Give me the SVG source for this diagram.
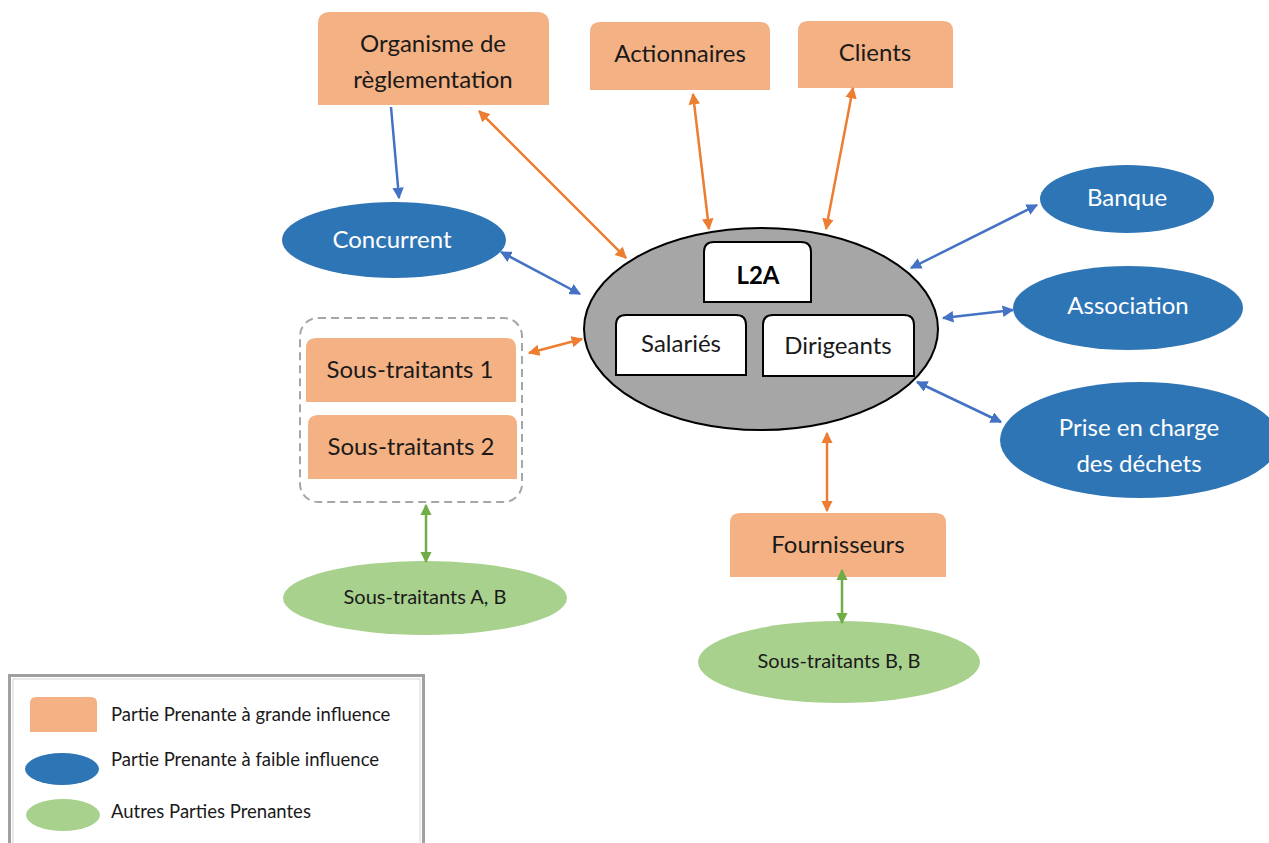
<svg xmlns="http://www.w3.org/2000/svg" width="1269" height="843" viewBox="0 0 1269 843">
<defs>
<style>
.t{font-family:Lato,"Liberation Sans",sans-serif;fill:#1a1a1a;text-anchor:middle;font-size:24px}
.w{font-family:Lato,"Liberation Sans",sans-serif;fill:#ffffff;text-anchor:middle;font-size:24px}
.s{font-family:Lato,"Liberation Sans",sans-serif;fill:#1a1a1a;text-anchor:middle;font-size:20px}
.or{fill:#f4b183}
.bl{fill:#2e75b6}
.gr{fill:#a9d18e}
.wb{fill:#ffffff;stroke:#000;stroke-width:2}
.ao{stroke:#ed7d31;stroke-width:2.5;fill:none;marker-start:url(#ho);marker-end:url(#ho)}
.ab{stroke:#4472c4;stroke-width:2.5;fill:none;marker-start:url(#hb);marker-end:url(#hb)}
.ag{stroke:#70ad47;stroke-width:2.5;fill:none;marker-start:url(#hg);marker-end:url(#hg)}
.lg{font-family:Lato,"Liberation Sans",sans-serif;fill:#1a1a1a;font-size:18.5px}
</style>
<marker id="ho" viewBox="0 0 10 10" refX="9" refY="5" markerWidth="4.6" markerHeight="4.6" orient="auto-start-reverse" markerUnits="strokeWidth"><path d="M0,0 L10,5 L0,10 Z" fill="#ed7d31"/></marker>
<marker id="hb" viewBox="0 0 10 10" refX="9" refY="5" markerWidth="4.6" markerHeight="4.6" orient="auto-start-reverse" markerUnits="strokeWidth"><path d="M0,0 L10,5 L0,10 Z" fill="#4472c4"/></marker>
<marker id="hg" viewBox="0 0 10 10" refX="9" refY="5" markerWidth="4.6" markerHeight="4.6" orient="auto-start-reverse" markerUnits="strokeWidth"><path d="M0,0 L10,5 L0,10 Z" fill="#70ad47"/></marker>
</defs>
<rect width="1269" height="843" fill="#ffffff"/>

<g id="organisme">
<path class="or" d="M318,105 V24 Q318,12 330,12 H537 Q549,12 549,24 V105 Z"/>
<text class="t" x="433" y="52">Organisme de</text>
<text class="t" x="433" y="88">règlementation</text>
</g>
<g id="actionnaires">
<path class="or" d="M590,90 V32 Q590,22 600,22 H760 Q770,22 770,32 V90 Z"/>
<text class="t" x="680" y="62">Actionnaires</text>
</g>
<g id="clients">
<path class="or" d="M798,88 V31 Q798,21 808,21 H943 Q953,21 953,31 V88 Z"/>
<text class="t" x="875" y="61">Clients</text>
</g>
<g id="concurrent">
<ellipse class="bl" cx="394" cy="240" rx="112" ry="38"/>
<text class="w" x="392" y="248">Concurrent</text>
</g>
<g id="l2a">
<ellipse cx="761" cy="329" rx="177" ry="101" fill="#a6a6a6" stroke="#000" stroke-width="2"/>
<path class="wb" d="M704,302 V252 Q704,242 714,242 H801 Q811,242 811,252 V302 Z"/>
<text x="758" y="284" font-size="24" font-weight="bold" font-family="Lato,'Liberation Sans',sans-serif" fill="#000" text-anchor="middle">L2A</text>
</g>
<g id="salaries">
<path class="wb" d="M616,375 V325 Q616,315 626,315 H736 Q746,315 746,325 V375 Z"/>
<text class="t" x="681" y="352">Salariés</text>
</g>
<g id="dirigeants">
<path class="wb" d="M763,376 V325 Q763,315 773,315 H904 Q914,315 914,325 V376 Z"/>
<text class="t" x="838" y="354">Dirigeants</text>
</g>
<g id="banque">
<ellipse class="bl" cx="1127" cy="199" rx="87" ry="34"/>
<text class="w" x="1127" y="206">Banque</text>
</g>
<g id="association">
<ellipse class="bl" cx="1128" cy="308" rx="115" ry="42"/>
<text class="w" x="1128" y="314">Association</text>
</g>
<g id="prise">
<ellipse class="bl" cx="1140" cy="440" rx="140" ry="58"/>
<text class="w" x="1139" y="436">Prise en charge</text>
<text class="w" x="1139" y="472">des déchets</text>
</g>
<g id="sous-traitants-group">
<rect x="300" y="318" width="222" height="184" rx="18" fill="none" stroke="#a6a6a6" stroke-width="2" stroke-dasharray="8,5"/>
</g>
<g id="sous-traitants-1">
<path class="or" d="M306,402 V348 Q306,338 316,338 H506 Q516,338 516,348 V402 Z"/>
<text class="t" x="410" y="378">Sous-traitants 1</text>
</g>
<g id="sous-traitants-2">
<path class="or" d="M308,479 V425 Q308,415 318,415 H507 Q517,415 517,425 V479 Z"/>
<text class="t" x="411" y="455">Sous-traitants 2</text>
</g>
<g id="fournisseurs">
<path class="or" d="M730,577 V523 Q730,513 740,513 H936 Q946,513 946,523 V577 Z"/>
<text class="t" x="838" y="553">Fournisseurs</text>
</g>
<g id="sous-traitants-bb">
<ellipse class="gr" cx="839" cy="662" rx="141" ry="41"/>
<text class="s" x="839" y="668">Sous-traitants B, B</text>
</g>
<g id="sous-traitants-ab">
<ellipse class="gr" cx="425" cy="598" rx="142" ry="37"/>
<text class="s" x="425" y="604">Sous-traitants A, B</text>
</g>

<g id="connectors">
<path d="M391,107 L399,198" stroke="#4472c4" stroke-width="2.5" fill="none" marker-end="url(#hb)"/>
<path class="ao" d="M479,111 L626,258"/>
<path class="ao" d="M693,94 L709,229"/>
<path class="ao" d="M853,88 L826,229"/>
<path class="ab" d="M501,252 L580,294"/>
<path class="ao" d="M529,353 L582,339"/>
<path class="ab" d="M1037,205 L911,268"/>
<path class="ab" d="M943,318 L1013,310"/>
<path class="ab" d="M917,382 L1001,422"/>
<path class="ao" d="M827,433 L827,511"/>
<path class="ag" d="M842,570 L842,623"/>
<path class="ag" d="M426,505 L426,562"/>
</g>

<g id="legend">
<rect x="9.5" y="675.5" width="414" height="200" fill="#ffffff" stroke="#a0a0a0" stroke-width="3"/>
<rect x="13" y="679" width="407" height="200" fill="none" stroke="#d6d6d6" stroke-width="1"/>
<path class="or" d="M30,732 V703 Q30,697 36,697 H91 Q97,697 97,703 V732 Z"/>
<text class="lg" x="111" y="721">Partie Prenante à grande influence</text>
<ellipse class="bl" cx="62" cy="769" rx="37" ry="16"/>
<text class="lg" x="111" y="766">Partie Prenante à faible influence</text>
<ellipse class="gr" cx="63" cy="815" rx="37" ry="16"/>
<text class="lg" x="111" y="818">Autres Parties Prenantes</text>
</g>
</svg>
